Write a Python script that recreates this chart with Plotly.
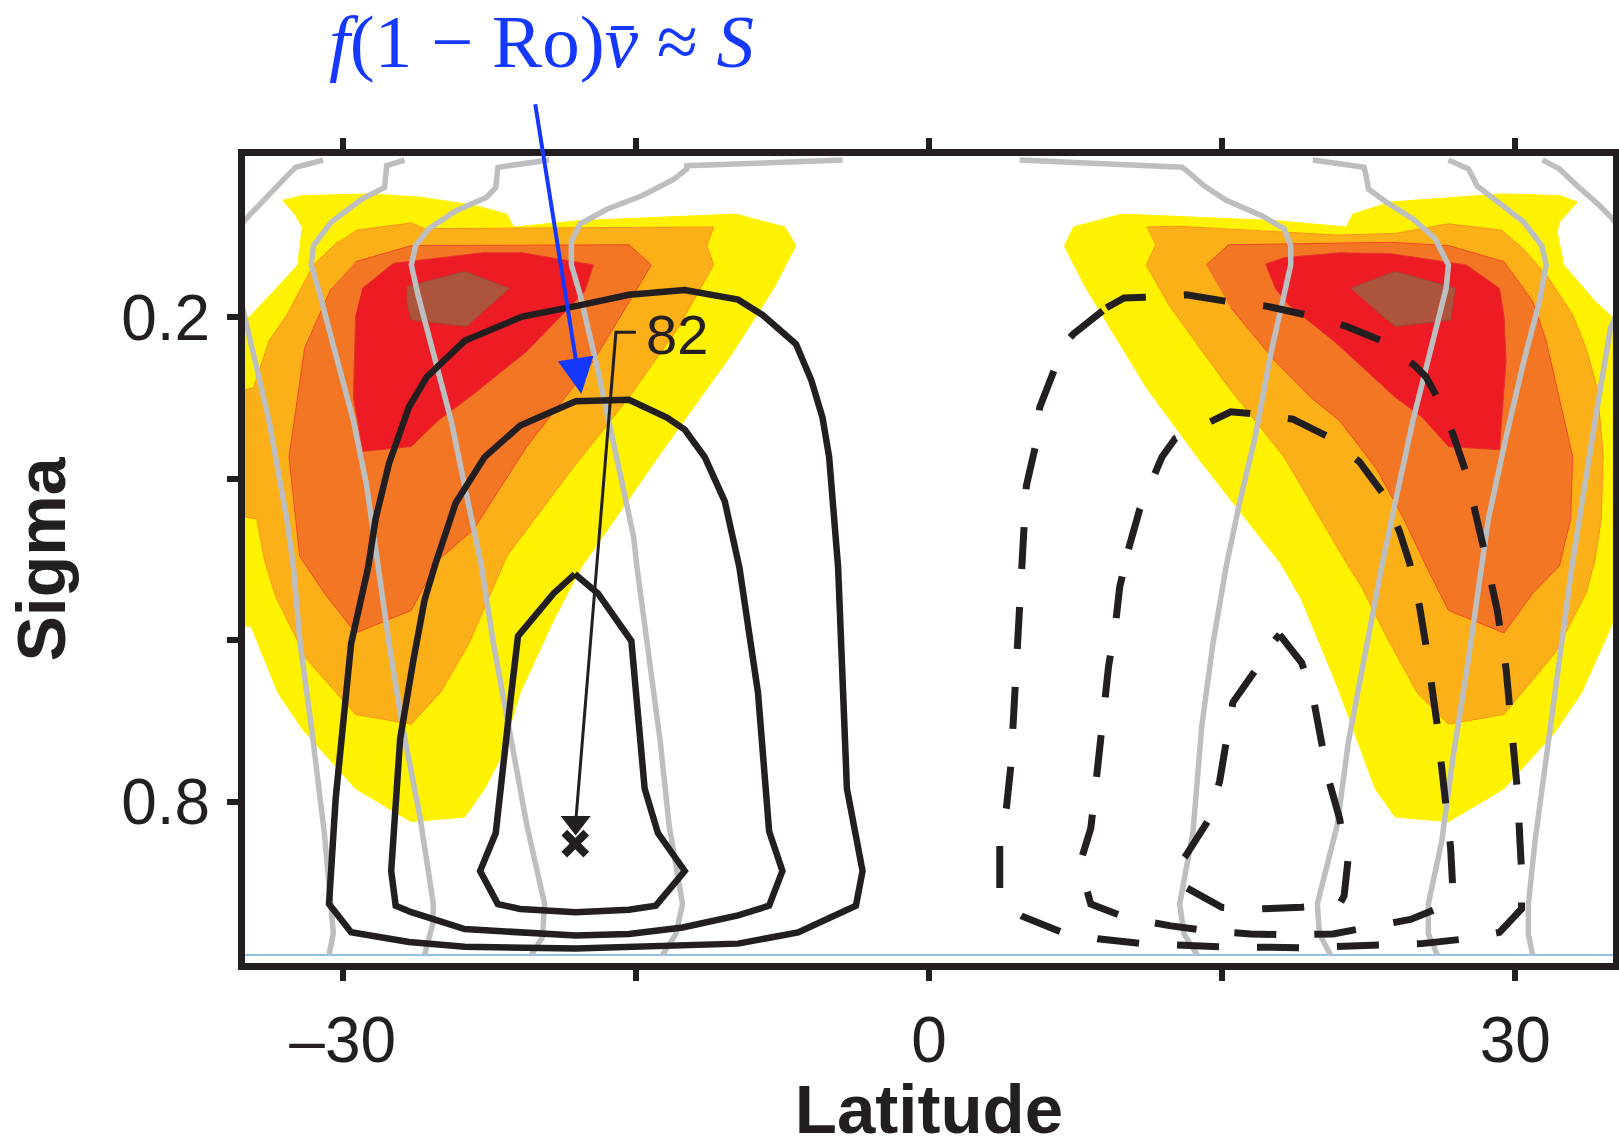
import plotly.graph_objects as go

# ---------------- data (latitude in degrees, sigma) ----------------
# filled contour regions, southern (left) blob
yel_L_lat = [-33.09, -32.07, -28.54, -26.04, -23.31, -21.60, -21.26, -17.85, -9.88, -7.38, -6.81, -7.95, -10.11, -13.75, -17.8, -19.21, -20.92, -21.94, -22.74, -23.76, -26.49, -29.34, -32.07, -33.32, -34.69, -36.5, -36.5, -34.8, -33.55, -32.30, -32.07, -32.41]
yel_L_sig = [0.055, 0.049, 0.047, 0.051, 0.061, 0.072, 0.088, 0.080, 0.072, 0.088, 0.111, 0.164, 0.246, 0.369, 0.51, 0.575, 0.665, 0.747, 0.784, 0.819, 0.825, 0.784, 0.710, 0.665, 0.583, 0.58, 0.2, 0.2, 0.168, 0.135, 0.088, 0.074]
or1_L_lat = [-29.34, -26.49, -25.81, -11.02, -11.36, -11.02, -12.84, -15.35, -18.30, -21.6, -23.54, -25.01, -26.49, -29.34, -31.84, -33.43, -34.0, -34.4, -36.5, -36.5, -34.57, -33.77, -32.86, -31.5, -30.25]
or1_L_sig = [0.092, 0.083, 0.090, 0.088, 0.111, 0.135, 0.213, 0.299, 0.389, 0.496, 0.604, 0.665, 0.704, 0.692, 0.624, 0.546, 0.501, 0.45, 0.44, 0.30, 0.287, 0.229, 0.197, 0.135, 0.106]
or2_L_lat = [-29.34, -26.49, -15.35, -14.21, -15.12, -17.17, -20.58, -23.31, -25.13, -26.49, -29.34, -30.93, -32.2, -32.75, -31.95, -30.59]
or2_L_sig = [0.131, 0.111, 0.110, 0.135, 0.172, 0.254, 0.360, 0.463, 0.501, 0.563, 0.591, 0.542, 0.496, 0.373, 0.238, 0.164]
red_L_lat = [-29.0, -27.4, -22.85, -20.81, -17.17, -17.62, -20.58, -23.31, -25.13, -26.49, -28.98, -29.45, -29.34]
red_L_sig = [0.164, 0.133, 0.120, 0.120, 0.135, 0.168, 0.242, 0.295, 0.328, 0.360, 0.366, 0.299, 0.197]
brn_L_lat = [-26.72, -23.76, -21.49, -23.65, -26.49, -26.72]
brn_L_sig = [0.162, 0.143, 0.164, 0.211, 0.203, 0.180]

# filled contour regions, northern (right) blob
yel_R_lat = [7.37, 9.87, 17.71, 21.35, 21.69, 23.62, 29.30, 32.26, 33.17, 32.26, 32.14, 32.48, 34.08, 34.98, 36.5, 36.5, 34.98, 33.39, 32.03, 29.42, 26.58, 23.85, 22.83, 20.89, 19.07, 18.0, 13.85, 11.12, 9.76, 7.94, 6.92]
yel_R_sig = [0.088, 0.072, 0.080, 0.088, 0.072, 0.057, 0.047, 0.049, 0.057, 0.082, 0.094, 0.135, 0.180, 0.200, 0.2, 0.58, 0.579, 0.665, 0.714, 0.784, 0.825, 0.819, 0.784, 0.657, 0.550, 0.505, 0.377, 0.287, 0.233, 0.160, 0.111]
or1_R_lat = [11.12, 12.71, 20.89, 23.85, 26.58, 29.30, 30.32, 31.58, 32.94, 33.62, 34.19, 34.5, 34.4, 34.08, 33.62, 32.03, 29.42, 26.58, 24.98, 23.39, 22.14, 21.5, 18.17, 15.21, 12.26, 11.12, 11.58]
or1_R_sig = [0.088, 0.087, 0.098, 0.096, 0.084, 0.092, 0.113, 0.147, 0.197, 0.238, 0.287, 0.37, 0.45, 0.501, 0.542, 0.616, 0.692, 0.704, 0.665, 0.595, 0.534, 0.51, 0.373, 0.283, 0.184, 0.135, 0.111]
or2_R_lat = [14.19, 15.33, 23.62, 26.58, 29.42, 30.89, 31.58, 32.94, 32.83, 32.26, 30.89, 29.42, 26.58, 25.44, 24.30, 22.94, 21.01, 19.53, 17.71, 15.44]
or2_R_sig = [0.135, 0.110, 0.107, 0.111, 0.131, 0.180, 0.229, 0.373, 0.450, 0.508, 0.542, 0.591, 0.563, 0.508, 0.450, 0.389, 0.328, 0.299, 0.254, 0.188]
red_R_lat = [17.21, 18.17, 21.01, 23.62, 27.49, 29.19, 29.42, 29.53, 29.19, 26.58, 25.21, 23.85, 20.89, 18.39, 17.71]
red_R_sig = [0.134, 0.126, 0.120, 0.121, 0.135, 0.164, 0.197, 0.254, 0.364, 0.360, 0.323, 0.299, 0.233, 0.184, 0.164]
brn_R_lat = [21.58, 23.85, 26.92, 26.69, 23.85, 22.71]
brn_R_sig = [0.164, 0.143, 0.164, 0.203, 0.211, 0.188]

# streamfunction contours: positive (solid, south) and negative (dashed, north)
pos1_lat = [-28.7, -29.57, -30.36, -30.70, -29.57, -26.61, -23.76, -18.08, -9.77, -6.70, -3.74, -3.40, -4.20, -4.65, -5.11, -5.45, -6.02, -6.81, -8.52, -9.77, -12.50, -15.35, -18.08, -20.81, -23.76, -25.70, -26.61, -27.63, -28.32, -28.7]
pos1_sig = [0.51, 0.604, 0.796, 0.927, 0.962, 0.974, 0.980, 0.982, 0.976, 0.962, 0.929, 0.886, 0.784, 0.51, 0.373, 0.324, 0.278, 0.233, 0.197, 0.178, 0.166, 0.172, 0.186, 0.199, 0.229, 0.274, 0.311, 0.381, 0.450, 0.51]
pos2_lat = [-25.25, -25.81, -26.38, -27.06, -27.52, -27.29, -26.49, -23.76, -18.08, -15.35, -12.61, -9.77, -8.18, -7.50, -8.18, -8.75, -9.7, -10.45, -11.48, -12.50, -13.41, -15.35, -18.08, -20.92, -22.74, -24.22, -25.25]
pos2_sig = [0.505, 0.550, 0.624, 0.722, 0.886, 0.929, 0.937, 0.958, 0.966, 0.964, 0.956, 0.941, 0.929, 0.886, 0.837, 0.665, 0.51, 0.428, 0.373, 0.339, 0.324, 0.302, 0.304, 0.334, 0.373, 0.430, 0.505]
pos3_lat = [-18.12, -16.94, -15.23, -14.55, -13.87, -12.50, -13.98, -15.35, -18.08, -20.92, -22.06, -22.97, -22.17, -21.94, -21.37, -21.03, -19.21, -18.12]
pos3_sig = [0.518, 0.542, 0.601, 0.784, 0.839, 0.886, 0.929, 0.934, 0.937, 0.933, 0.927, 0.886, 0.839, 0.784, 0.665, 0.595, 0.542, 0.518]
neg1_lat = [9.08, 9.98, 11.01, 13.17, 15.21, 17.26, 19.30, 21.35, 23.17, 24.87, 25.44, 26.0, 26.8, 27.49, 28.39, 29.08, 29.53, 30.10, 30.32, 30.32, 29.19, 27.49, 25.21, 23.39, 21.12, 19.07, 14.98, 12.71, 10.89, 8.62, 6.8, 4.76, 3.85, 3.62, 3.62, 3.96, 4.19, 4.42, 4.76, 4.98, 5.44, 5.67, 6.46, 6.92, 7.37, 9.08]
neg1_sig = [0.188, 0.176, 0.175, 0.172, 0.180, 0.186, 0.197, 0.211, 0.229, 0.260, 0.274, 0.299, 0.344, 0.393, 0.487, 0.563, 0.636, 0.784, 0.886, 0.933, 0.962, 0.970, 0.976, 0.978, 0.980, 0.981, 0.980, 0.978, 0.976, 0.970, 0.962, 0.942, 0.929, 0.907, 0.853, 0.808, 0.755, 0.653, 0.51, 0.409, 0.360, 0.311, 0.262, 0.233, 0.221, 0.188]
neg2_lat = [10.21, 10.78, 11.57, 11.92, 12.60, 14.53, 15.44, 16.46, 18.62, 20.44, 22.03, 23.28, 24.07, 24.6, 25.10, 25.44, 25.78, 26.01, 26.24, 26.46, 26.69, 26.80, 26.58, 24.64, 22.49, 20.67, 18.39, 16.46, 14.30, 12.37, 10.10, 8.28, 7.71, 8.28, 8.51, 8.73, 8.96, 9.19, 9.53, 9.76, 10.21]
neg2_sig = [0.487, 0.438, 0.393, 0.373, 0.350, 0.328, 0.317, 0.319, 0.326, 0.348, 0.379, 0.420, 0.465, 0.505, 0.558, 0.608, 0.659, 0.706, 0.759, 0.806, 0.857, 0.907, 0.927, 0.946, 0.956, 0.964, 0.965, 0.964, 0.960, 0.954, 0.944, 0.927, 0.878, 0.833, 0.784, 0.735, 0.681, 0.632, 0.583, 0.534, 0.487]
neg3_lat = [17.94, 19.07, 19.64, 20.10, 20.44, 21.01, 21.12, 21.46, 21.24, 21.01, 19.07, 16.80, 14.98, 13.05, 12.60, 13.17, 14.30, 14.87, 15.21, 15.44, 15.55, 16.80, 17.48, 17.94]
neg3_sig = [0.593, 0.628, 0.669, 0.724, 0.772, 0.821, 0.837, 0.868, 0.917, 0.927, 0.931, 0.933, 0.931, 0.905, 0.884, 0.866, 0.823, 0.775, 0.724, 0.690, 0.677, 0.634, 0.606, 0.593]

# angular momentum contours (grey)
am_lats = [
    [-31.0, -32.41, -32.86, -34.8, -36.5, -35.2, -33.77, -32.86, -32.52, -32.18, -31.61, -30.93, -30.48, -30.70],
    [-26.84, -27.75, -27.86, -29.0, -30.59, -31.50, -31.61, -31.16, -30.36, -29.45, -28.77, -28.2, -27.63, -26.95, -26.04, -25.36, -25.40, -25.81],
    [-19.44, -22.06, -22.17, -22.63, -24.22, -25.58, -26.27, -26.49, -26.15, -25.36, -24.45, -23.76, -22.9, -22.29, -21.49, -20.58, -19.67, -19.78, -20.35],
    [-4.42, -12.39, -12.39, -13.07, -14.66, -16.48, -17.85, -18.30, -18.30, -17.85, -16.94, -16.03, -15.12, -14.95, -14.32, -13.75, -13.30, -12.61, -12.95, -13.64],
    [4.64, 12.94, 13.17, 14.08, 15.21, 17.03, 18.17, 18.51, 18.51, 18.17, 17.48, 16.69, 15.89, 15.21, 14.53, 13.96, 13.51, 12.83, 13.05, 13.73],
    [19.64, 22.26, 22.37, 22.49, 23.39, 24.76, 25.89, 26.58, 26.46, 25.67, 24.76, 23.85, 23.17, 22.26, 21.46, 20.89, 19.87, 19.98, 20.55],
    [26.58, 27.60, 28.05, 29.08, 30.44, 31.35, 31.58, 31.24, 30.44, 29.53, 28.62, 28.28, 27.60, 26.80, 26.24, 25.55, 25.55, 26.01],
    [31.4, 32.26, 33.17, 34.30, 34.98, 36.5, 35.3, 34.87, 34.08, 33.39, 32.9, 32.26, 31.58, 31.01, 30.67, 30.67, 30.89],
]
am_sigs = [
    [0.005, 0.014, 0.025, 0.074, 0.12, 0.18, 0.328, 0.450, 0.51, 0.604, 0.706, 0.841, 0.963, 0.99],
    [0.005, 0.012, 0.039, 0.053, 0.082, 0.111, 0.135, 0.172, 0.246, 0.328, 0.409, 0.508, 0.604, 0.706, 0.820, 0.927, 0.952, 0.99],
    [0.005, 0.014, 0.039, 0.051, 0.068, 0.090, 0.111, 0.135, 0.172, 0.246, 0.328, 0.409, 0.508, 0.604, 0.706, 0.829, 0.927, 0.968, 0.99],
    [0.005, 0.012, 0.016, 0.029, 0.049, 0.066, 0.084, 0.106, 0.135, 0.172, 0.266, 0.369, 0.471, 0.508, 0.624, 0.726, 0.829, 0.927, 0.964, 0.99],
    [0.005, 0.014, 0.018, 0.037, 0.055, 0.074, 0.090, 0.111, 0.135, 0.172, 0.246, 0.348, 0.430, 0.508, 0.604, 0.706, 0.837, 0.927, 0.964, 0.99],
    [0.005, 0.014, 0.025, 0.041, 0.057, 0.078, 0.102, 0.135, 0.164, 0.238, 0.328, 0.430, 0.508, 0.624, 0.726, 0.829, 0.927, 0.964, 0.99],
    [0.005, 0.016, 0.037, 0.057, 0.082, 0.111, 0.135, 0.180, 0.254, 0.348, 0.450, 0.508, 0.624, 0.747, 0.849, 0.927, 0.964, 0.99],
    [0.005, 0.016, 0.037, 0.061, 0.078, 0.13, 0.19, 0.213, 0.328, 0.430, 0.508, 0.624, 0.747, 0.849, 0.927, 0.964, 0.99],
]

# labelled maximum (82) and its location
max_label = "82"
max_label_lat, max_label_sig = -12.9, 0.2216
leader_lat = [-15.0, -16.02, -18.08]
leader_sig = [0.2185, 0.2185, 0.826]
max_lat, max_sig = -18.1, 0.852
surface_sig = 0.99
x_ticks = [-30, -15, 0, 15, 30]
x_ticktext = ["\u201330", "", "0", "", "30"]
y_ticks = [0.2, 0.4, 0.6, 0.8]
y_ticktext = ["0.2", "", "", "0.8"]

# ---------------- figure ----------------
INK = "#231F20"
fig = go.Figure()

fills = [
    (yel_L_lat, yel_L_sig, "#FFF200", "#FFF200"),
    (yel_R_lat, yel_R_sig, "#FFF200", "#FFF200"),
    (or1_L_lat, or1_L_sig, "#FBB017", "#F7941D"),
    (or1_R_lat, or1_R_sig, "#FBB017", "#F7941D"),
    (or2_L_lat, or2_L_sig, "#F27623", "#EF4B23"),
    (or2_R_lat, or2_R_sig, "#F27623", "#EF4B23"),
    (red_L_lat, red_L_sig, "#ED1C24", "#E8322A"),
    (red_R_lat, red_R_sig, "#ED1C24", "#E8322A"),
    (brn_L_lat, brn_L_sig, "#AD553C", "#94503A"),
    (brn_R_lat, brn_R_sig, "#AD553C", "#94503A"),
]
for la, sg, fc, lc in fills:
    fig.add_trace(go.Scatter(x=la, y=sg, mode="lines", fill="toself", fillcolor=fc,
                             line=dict(color=lc, width=1), hoverinfo="skip", showlegend=False))

fig.add_trace(go.Scatter(x=[-35, 35], y=[surface_sig, surface_sig], mode="lines",
                         line=dict(color="#6FA8DC", width=1.5), showlegend=False, hoverinfo="skip"))

for la, sg in zip(am_lats, am_sigs):
    fig.add_trace(go.Scatter(x=la, y=sg, mode="lines", line=dict(color="#BCBEC0", width=5.5),
                             showlegend=False, hoverinfo="skip"))

for la, sg in [(pos1_lat, pos1_sig), (pos2_lat, pos2_sig), (pos3_lat, pos3_sig)]:
    fig.add_trace(go.Scatter(x=la, y=sg, mode="lines", line=dict(color=INK, width=6.5),
                             showlegend=False, hoverinfo="skip"))
for la, sg in [(neg1_lat, neg1_sig), (neg2_lat, neg2_sig), (neg3_lat, neg3_sig)]:
    fig.add_trace(go.Scatter(x=la, y=sg, mode="lines", line=dict(color=INK, width=7, dash="42px,38px"),
                             showlegend=False, hoverinfo="skip"))

# leader line + markers for maximum
fig.add_trace(go.Scatter(x=leader_lat, y=leader_sig, mode="lines", line=dict(color=INK, width=3),
                         showlegend=False, hoverinfo="skip"))
fig.add_trace(go.Scatter(x=[leader_lat[-1]], y=[leader_sig[-1]], mode="markers",
                         marker=dict(symbol="triangle-down", size=26, color=INK),
                         showlegend=False, hoverinfo="skip"))
fig.add_trace(go.Scatter(x=[max_lat], y=[max_sig], mode="markers",
                         marker=dict(symbol="x-thin", size=22, line=dict(color=INK, width=8)),
                         showlegend=False, hoverinfo="skip"))

fig.add_annotation(x=max_label_lat, y=max_label_sig, text=max_label, showarrow=False,
                   font=dict(family="Liberation Sans", size=56, color=INK))

BLUE = "#1538FF"
fig.add_annotation(x=-17.79, y=0.295, ax=-20.16, ay=-0.066, axref="x", ayref="y",
                   text="", showarrow=True, arrowhead=2, arrowsize=1.8, arrowwidth=4,
                   arrowcolor=BLUE, standoff=0)
fig.add_annotation(x=0.2167, y=1.142, xref="paper", yref="paper", showarrow=False,
                   xanchor="center", yanchor="middle",
                   text="<i>f</i>(1 \u2212 Ro)<i>v\u0304</i> \u2248 <i>S</i>",
                   font=dict(family="Liberation Serif", size=75, color=BLUE))

axis_common = dict(showline=True, linewidth=7, linecolor=INK, mirror="ticks", ticks="outside",
                   ticklen=11, tickwidth=6, tickcolor=INK, showgrid=False, zeroline=False,
                   automargin=False,
                   tickfont=dict(family="Liberation Sans", size=64, color=INK))
fig.update_xaxes(range=[-35, 35], tickvals=x_ticks, ticktext=x_ticktext, ticklabelstandoff=4,
                 title=dict(text="Latitude", standoff=34,
                            font=dict(family="Liberation Sans", size=69, color=INK, weight="bold")),
                 **axis_common)
fig.update_yaxes(range=[1, 0], tickvals=y_ticks, ticktext=y_ticktext, ticklabelstandoff=4,
                 title=dict(text="Sigma", standoff=36,
                            font=dict(family="Liberation Sans", size=68, color=INK, weight="bold")),
                 **axis_common)
fig.update_layout(width=1619, height=1148, autosize=False,
                  margin=dict(l=245, r=6, t=156, b=185),
                  paper_bgcolor="white", plot_bgcolor="white", showlegend=False)

fig.write_html("out.html")
